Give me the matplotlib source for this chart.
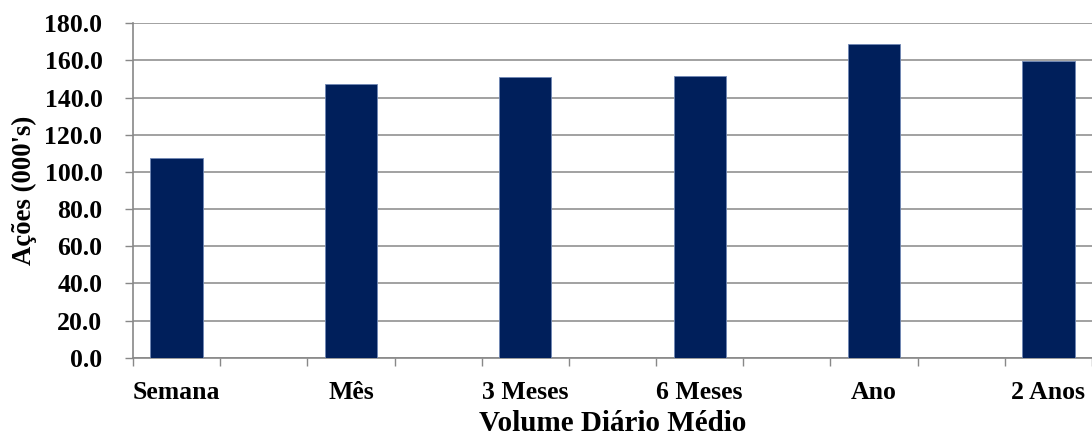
import numpy as np
import matplotlib
matplotlib.use('Agg')
import matplotlib.pyplot as plt

# dados
categorias = ['Semana', 'Mês', '3 Meses', '6 Meses', 'Ano', '2 Anos']
volume = [107.4, 147.2, 151.3, 151.6, 168.7, 159.6]
y_ticks = np.arange(0, 181, 20)

plt.rcParams['font.family'] = ['Liberation Serif', 'DejaVu Serif']
plt.rcParams['font.weight'] = 'bold'

fig = plt.figure(figsize=(10.92, 4.38), dpi=100)
ax = fig.add_axes([133 / 1092, 80.3 / 438, 1 - 133 / 1092, 334.4 / 438])

x = np.arange(len(categorias))
ax.bar(x, volume, width=0.3, color='#001f5b', edgecolor='#7088b5',
       linewidth=0.6, zorder=3)

ax.set_ylim(0, 180)
ax.set_xlim(-0.25, -0.25 + 959 / 174.7)
ax.set_yticks(y_ticks)
ax.set_yticklabels(['%.1f' % v for v in y_ticks])
ax.yaxis.grid(True, color='#888888', linewidth=1.1)
ax.set_axisbelow(True)

# rótulos no centro das barras, marcas entre elas
ax.set_xticks(x)
ax.set_xticklabels(categorias)
ax.set_xticks(np.arange(-0.25, 5.3, 0.5), minor=True)
ax.tick_params(axis='x', which='major', length=0, pad=17, labelsize=18.5)
ax.tick_params(axis='x', which='minor', length=5.5, width=1.0, color='#888888')
ax.tick_params(axis='y', length=6, width=1.0, color='#888888', pad=16,
               labelsize=18.5)

for s in ['top', 'right']:
    ax.spines[s].set_visible(False)
for s in ['left', 'bottom']:
    ax.spines[s].set_color('#888888')
    ax.spines[s].set_linewidth(1.2)

ax.set_xlabel('Volume Diário Médio', fontsize=21, fontweight='bold')
ax.xaxis.set_label_coords(0.5, -0.155)
ax.set_ylabel("Ações (000's)", fontsize=19.3, fontweight='bold')
ax.yaxis.set_label_coords(-0.1, 0.5)

fig.savefig('out.png', dpi=100)
